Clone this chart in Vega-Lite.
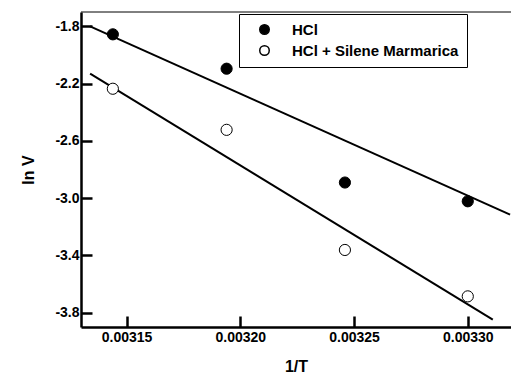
{
  "$schema": "https://vega.github.io/schema/vega-lite/v6.json",
  "width": 430,
  "height": 315,
  "autosize": {"type": "none"},
  "padding": {"left": 81, "top": 12, "right": 0, "bottom": 58},
  "background": "white",
  "config": {"view": {"stroke": null}, "font": "Liberation Sans"},
  "datasets": {
    "points": [
      {"series": "HCl", "invT": 0.003144, "lnV": -1.856},
      {"series": "HCl", "invT": 0.003194, "lnV": -2.096},
      {"series": "HCl", "invT": 0.003246, "lnV": -2.891},
      {"series": "HCl", "invT": 0.0033, "lnV": -3.022},
      {"series": "HCl + Silene Marmarica", "invT": 0.003144, "lnV": -2.236},
      {"series": "HCl + Silene Marmarica", "invT": 0.003194, "lnV": -2.523},
      {"series": "HCl + Silene Marmarica", "invT": 0.003246, "lnV": -3.362},
      {"series": "HCl + Silene Marmarica", "invT": 0.0033, "lnV": -3.686}
    ],
    "fits": [
      {"series": "HCl", "invT": 0.003134, "lnV": -1.8},
      {"series": "HCl", "invT": 0.0033186, "lnV": -3.115},
      {"series": "HCl + Silene Marmarica", "invT": 0.003134, "lnV": -2.131},
      {"series": "HCl + Silene Marmarica", "invT": 0.003311, "lnV": -3.849}
    ],
    "frame": [{"lnV": -1.7}]
  },
  "layer": [
    {
      "data": {"name": "fits"},
      "mark": {"type": "line", "color": "black", "strokeWidth": 2},
      "encoding": {
        "x": {
          "field": "invT", "type": "quantitative",
          "scale": {"domain": [0.00313, 0.003319], "nice": false, "zero": false},
          "axis": {
            "orient": "bottom", "values": [0.00315, 0.0032, 0.00325, 0.0033], "format": ".5f",
            "ticks": true, "tickSize": -11, "tickWidth": 2.5, "tickColor": "black", "tickOpacity": 1,
            "grid": false, "domainColor": "black", "domainWidth": 2.5,
            "labelFont": "Liberation Sans", "labelFontWeight": "bold", "labelFontSize": 14,
            "labelColor": "black", "labelPadding": 14, "labelOverlap": false,
            "title": "1/T", "titleFont": "Liberation Sans", "titleFontSize": 16, "titleFontWeight": "bold",
            "titleColor": "black", "titlePadding": 14
          }
        },
        "y": {
          "field": "lnV", "type": "quantitative",
          "scale": {"domain": [-3.9, -1.7], "nice": false, "zero": false},
          "axis": {
            "orient": "left", "values": [-1.8, -2.0, -2.2, -2.4, -2.6, -2.8, -3.0, -3.2, -3.4, -3.6, -3.8],
            "labelExpr": "(datum.value < 0 ? '-' : '') + format(abs(datum.value), '.1f')",
            "ticks": true, "tickSize": -11, "tickWidth": 2.5, "tickColor": "black", "tickOpacity": 1,
            "grid": false, "domainColor": "black", "domainWidth": 2.5,
            "labelFont": "Liberation Sans", "labelFontWeight": "bold", "labelFontSize": 14,
            "labelColor": "black", "labelPadding": 13, "labelOverlap": false,
            "title": "ln V", "titleFont": "Liberation Sans", "titleFontSize": 16, "titleFontWeight": "bold",
            "titleColor": "black", "titlePadding": 18
          }
        },
        "detail": {"field": "series"}
      }
    },
    {
      "data": {"name": "frame"},
      "mark": {"type": "rule", "color": "black", "strokeWidth": 1},
      "encoding": {
        "y": {"field": "lnV", "type": "quantitative"}
      }
    },
    {
      "data": {"name": "points"},
      "mark": {"type": "circle", "size": 125, "stroke": "black", "strokeWidth": 1, "opacity": 1},
      "encoding": {
        "x": {"field": "invT", "type": "quantitative"},
        "y": {"field": "lnV", "type": "quantitative"},
        "fill": {
          "field": "series", "type": "nominal",
          "scale": {"domain": ["HCl", "HCl + Silene Marmarica"], "range": ["black", "white"]},
          "legend": {
            "orient": "none", "legendX": 158, "legendY": 2, "title": null,
            "strokeColor": "black", "fillColor": "white", "padding": 8,
            "symbolType": "circle", "symbolSize": 90, "symbolStrokeColor": "black",
            "symbolOffset": 10, "labelOffset": 20, "rowPadding": 4, "labelLimit": 400,
            "labelFont": "Liberation Sans", "labelFontSize": 15, "labelFontWeight": "bold", "labelColor": "black"
          }
        }
      }
    }
  ]
}
